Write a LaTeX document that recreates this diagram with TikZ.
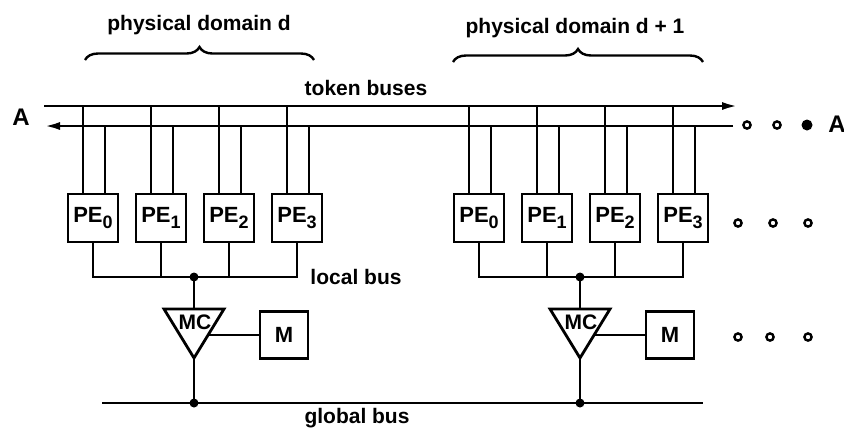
\documentclass[tikz,border=0pt]{standalone}
\usepackage{fontspec}
\setsansfont{Liberation Sans}
\usetikzlibrary{arrows.meta,positioning,decorations.pathreplacing}
\newcommand{\pesub}[1]{PE\raisebox{-0.55ex}{\small #1}}
\tikzset{
  >={Latex[length=8pt,width=4pt]},
  bus/.style={line width=1.4pt},
  pe/.style={draw,line width=1.4pt,minimum width=25pt,minimum height=24pt,
    inner sep=0.5pt,font=\sffamily\bfseries\fontsize{11}{13}\selectfont},
  mem/.style={draw,line width=1.4pt,minimum width=24pt,minimum height=23.5pt,
    font=\sffamily\bfseries\fontsize{11}{13}\selectfont},
  tag/.style={font=\sffamily\bfseries\fontsize{10.5}{12}\selectfont},
  ring/.style={circle,draw,line width=1.2pt,inner sep=0pt,minimum size=3.6pt},
  blob/.style={circle,fill,inner sep=0pt,minimum size=5.5pt},
  joint/.style={circle,fill,inner sep=0pt,minimum size=4.5pt},
  curly/.style={decorate,decoration={brace,amplitude=6.5pt},line width=1.2pt},
}

\begin{document}
\begin{tikzpicture}[x=0.5pt,y=-0.5pt]
  \useasboundingbox (0,0) rectangle (844,436);
  % domain headings
  \node[tag] (dom a) at (199,25) {physical domain d};
  \node[tag] (dom b) at (575,28) {physical domain d + 1};
  \draw[curly] (85,60) -- (314,60);
  \draw[curly] (453,62) -- (703,62);
  % token buses
  \node[tag] (tok) at (366,88) {token buses};
  \coordinate (t0) at (44,106); \coordinate (t1) at (738,106);
  \coordinate (u0) at (44,126); \coordinate (u1) at (733,126);
  \draw[bus,->] (t0) -- (t1);
  \draw[bus,->] (u1) -- (u0);
  \node[tag,font=\sffamily\bfseries\large] (a in) at (21,117) {A};
  \node[tag,font=\sffamily\bfseries\large] (a out) at (837,124) {A};
  % global bus
  \coordinate (g0) at (102,403); \coordinate (g1) at (703,403);
  \draw[bus] (g0) -- (g1);
  \node[tag] (glob) at (357,418) {global bus};
  \node[tag] (loc) at (356,277) {local bus};
  % the two domains
  \foreach \ox/\dn in {0/a,386/b}{
    \coordinate (lb\dn) at ({\ox+194},277);
    \foreach \i in {0,...,3}{
      \node[pe] (pe\dn\i) at ({\ox+93+68*\i},218) {\pesub{\i}};
      \draw[bus] ([xshift=-5pt]pe\dn\i.north) -- ([xshift=-5pt]pe\dn\i.north |- t0);
      \draw[bus] ([xshift=6pt]pe\dn\i.north) -- ([xshift=6pt]pe\dn\i.north |- u0);
    }
    \draw[bus] (pe\dn0.south) |- (pe\dn3.south |- lb\dn) -- (pe\dn3.south);
    \draw[bus] (pe\dn1.south) -- (pe\dn1.south |- lb\dn);
    \draw[bus] (pe\dn2.south) -- (pe\dn2.south |- lb\dn);
    \node[joint] at (lb\dn) {};
    % memory controller
    \coordinate (mc\dn l) at ({\ox+164},309);
    \coordinate (mc\dn r) at ({\ox+224},309);
    \coordinate (mc\dn t) at ({\ox+194},309);
    \coordinate (mc\dn b) at ({\ox+194},358);
    \coordinate (mc\dn e) at ({\ox+208},335);
    \draw[bus,line join=miter] (mc\dn l) -- (mc\dn r) -- (mc\dn b) -- cycle;
    \node[tag,inner sep=0pt] (mc\dn) at ({\ox+195},322) {MC};
    \draw[bus] (lb\dn) -- (mc\dn t);
    \node[mem] (m\dn) at ({\ox+284},335) {M};
    \draw[bus] (mc\dn e) -- (m\dn.west);
    \coordinate (gb\dn) at ({\ox+194},403);
    \draw[bus] (mc\dn b) -- (gb\dn);
    \node[joint] at (gb\dn) {};
  }
  % more domains follow
  \node[ring] (dt1) at (747,125) {};
  \node[ring] (dt2) at (777,125) {};
  \node[blob] (dt3) at (807,125) {};
  \foreach \x [count=\k] in {738,773,808}
    \node[ring] (dp\k) at (\x,223) {};
  \foreach \x [count=\k] in {738,770,808}
    \node[ring] (dm\k) at (\x,337) {};
\end{tikzpicture}
\end{document}
